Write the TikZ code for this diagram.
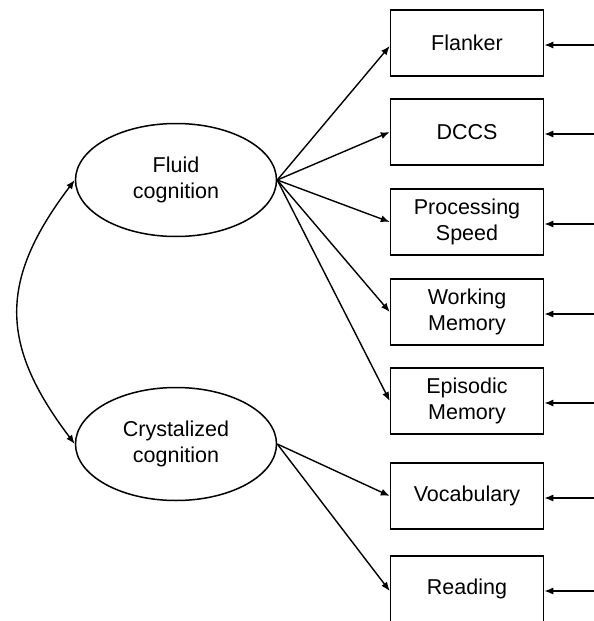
\documentclass[tikz,border=0pt]{standalone}
\usepackage{fontspec}
\setmainfont{Liberation Sans}
\usetikzlibrary{shapes.geometric, arrows.meta}

\begin{document}
\begin{tikzpicture}[x=1pt, y=-1pt,
    latent/.style={draw, ellipse, line width=1.5pt, minimum width=201pt, minimum height=113pt, inner sep=0pt, align=center, font=\fontsize{21.5}{26}\selectfont},
    manifest/.style={draw, rectangle, line width=1.5pt, minimum width=153pt, minimum height=66pt, inner sep=0pt, align=center, font=\fontsize{21.5}{26}\selectfont},
    path/.style={line width=1.4pt, -{Latex[length=9pt, width=7pt]}}]
      \useasboundingbox (0,0) rectangle (594,621);
      \clip (0,0) rectangle (594,621);

      % Latente Faktoren
      \node[latent] (fluid) at (176,180) {Fluid\\cognition};
      \node[latent] (cryst) at (176,444) {Crystalized\\cognition};

      % Beobachtete Tests
      \node[manifest] (flanker) at (467,43) {Flanker};
      \node[manifest] (dccs) at (467,132) {DCCS};
      \node[manifest] (speed) at (467,222) {Processing\\Speed};
      \node[manifest] (working) at (467,312) {Working\\Memory};
      \node[manifest] (episodic) at (467,401) {Episodic\\Memory};
      \node[manifest] (vocab) at (467,496) {Vocabulary};
      \node[manifest] (reading) at (467,589) {Reading};

      % Ladungen
      \draw[path] (fluid.east) -- ([yshift=-3pt]flanker.west);
      \draw[path] (fluid.east) -- (dccs.west);
      \draw[path] (fluid.east) -- (speed.west);
      \draw[path] (fluid.east) -- (working.west);
      \draw[path] (fluid.east) -- (episodic.west);
      \draw[path] (cryst.east) -- (vocab.west);
      \draw[path] (cryst.east) -- ([yshift=-2pt]reading.west);

      % Fehlerterme
      \foreach \t in {flanker, dccs, speed, working, episodic, vocab, reading}
        \draw[path] ([yshift=-2pt]\t.east) ++(50,0) -- ([yshift=-2pt]\t.east);

      % Korrelation
      \draw[line width=1.4pt, {Latex[length=9pt, width=7pt]}-{Latex[length=9pt, width=7pt]}]
        (fluid.west) .. controls (-1,280) and (-1,344) .. (cryst.west);
\end{tikzpicture}
\end{document}
